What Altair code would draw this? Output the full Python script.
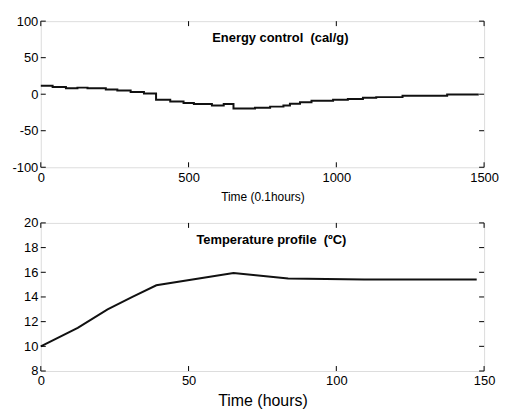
import altair as alt
import pandas as pd

# Energy control (cal/g) step profile, time in 0.1 hours
energy_t = [0, 40, 85, 124, 158, 220, 259, 304, 349, 390, 438, 483, 518, 579, 619, 652,
            725, 776, 821, 843, 877, 916, 989, 1039, 1090, 1135, 1224, 1375, 1482]
energy_v = [11.5, 10, 8, 9, 8, 6.5, 5, 3, 1, -7.5, -10, -12, -13.5, -15.5, -13.5, -19.5,
            -18.5, -17, -15.5, -13, -11, -9, -7.5, -6.5, -5, -4, -2, -0.5, -0.5]

# Temperature profile (ºC), time in hours
temp_t = [0, 12.5, 22.6, 31, 39.1, 65.2, 83.7, 109.4, 147.5]
temp_v = [10.0, 11.5, 13.0, 14.0, 14.95, 15.95, 15.5, 15.42, 15.42]

e_xticks = [0, 500, 1000, 1500]
e_yticks = [-100, -50, 0, 50, 100]
t_xticks = [0, 50, 100, 150]
t_yticks = [8, 10, 12, 14, 16, 18, 20]

W = 446
H1 = 147
H2 = 149
FONT = "Liberation Sans"

def panel(df, xdom, ydom, xticks, yticks, xtitle, title_text, title_x, H, interp,
          xtitle_size, xtitle_pad):
    xs = alt.Scale(domain=xdom, nice=False, zero=False)
    ys = alt.Scale(domain=ydom, nice=False, zero=False)
    xax = alt.Axis(values=xticks, title=xtitle, grid=False, ticks=False,
                   labelExpr="toString(datum.value)",
                   labelOverlap=False, labelFlush=False, labelBound=False,
                   labelPadding=4, labelFontSize=13, labelColor="black",
                   titleFontSize=xtitle_size, titleFontWeight="normal",
                   titleColor="black", titlePadding=xtitle_pad, domain=False,
                   labelFont=FONT, titleFont=FONT)
    yax = alt.Axis(values=yticks, title=None, grid=False, ticks=False,
                   labelExpr="toString(datum.value)",
                   labelOverlap=False, labelFlush=False, labelBound=False,
                   labelPadding=3, labelFontSize=13, labelColor="black",
                   domain=False, labelFont=FONT)
    line = alt.Chart(df).mark_line(color="#111111", strokeWidth=2, interpolate=interp).encode(
        x=alt.X("t:Q", scale=xs, axis=xax, title=xtitle),
        y=alt.Y("v:Q", scale=ys, axis=yax, title=None),
    )
    xt = pd.DataFrame({"t": xticks})
    yt = pd.DataFrame({"v": yticks})
    tb = alt.Chart(xt).mark_rule(color="black", strokeWidth=1).encode(
        x=alt.X("t:Q", scale=xs, axis=xax, title=xtitle), y=alt.value(H), y2=alt.value(H - 5))
    tt = alt.Chart(xt).mark_rule(color="black", strokeWidth=1).encode(
        x=alt.X("t:Q", scale=xs, axis=xax, title=xtitle), y=alt.value(0), y2=alt.value(5))
    tl = alt.Chart(yt).mark_rule(color="black", strokeWidth=1).encode(
        y=alt.Y("v:Q", scale=ys, axis=yax, title=None), x=alt.value(0), x2=alt.value(5))
    tr = alt.Chart(yt).mark_rule(color="black", strokeWidth=1).encode(
        y=alt.Y("v:Q", scale=ys, axis=yax, title=None), x=alt.value(W), x2=alt.value(W - 5))
    txt = alt.Chart(pd.DataFrame({"s": [title_text]})).mark_text(
        font=FONT, fontSize=13, fontWeight="bold", color="black", align="center", baseline="middle"
    ).encode(text="s:N", x=alt.value(title_x), y=alt.value(17))
    return alt.layer(line, tb, tt, tl, tr, txt).properties(width=W, height=H)

edf = pd.DataFrame({"t": energy_t, "v": energy_v})
tdf = pd.DataFrame({"t": temp_t, "v": temp_v})

top = panel(edf, [0, 1500], [-100, 100], e_xticks, e_yticks, "Time (0.1hours)",
            "Energy control\u00a0 (cal/g)", 241, H1, "step-after", 12, 7)
bot = panel(tdf, [0, 150], [8, 20], t_xticks, t_yticks, "Time (hours)",
            "Temperature profile\u00a0 (ºC)", 232, H2, "linear", 16, 5)

chart = alt.vconcat(top, bot, spacing=13).properties(
    padding={"left": 3, "top": 5, "right": 0, "bottom": 0}
).configure_view(stroke="black", strokeWidth=1.5).configure(background="white")

chart.save("out.html", embed_options={"renderer": "svg", "actions": False})
